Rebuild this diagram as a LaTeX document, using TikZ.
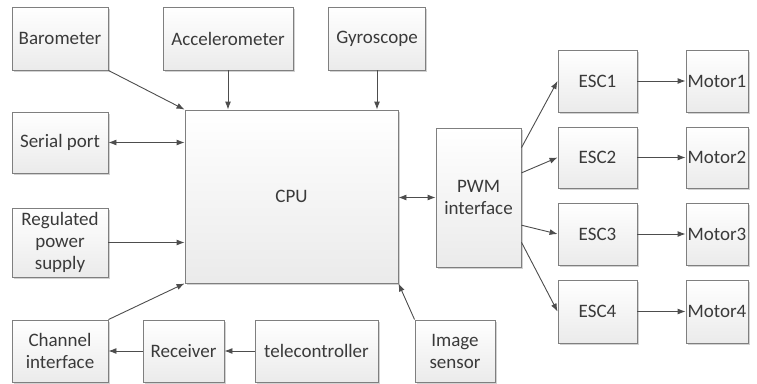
\documentclass[tikz,border=0pt]{standalone}
\usepackage{fontspec}
\setmainfont{Carlito}
\usetikzlibrary{arrows.meta,shadows,calc}
\definecolor{boxline}{HTML}{7F7F7F}
\definecolor{arrline}{HTML}{4D4D4D}
\definecolor{txt}{HTML}{3A3A3A}
\tikzset{
  blk/.style={draw=boxline, line width=0.9pt, top color=white, bottom color=black!8,
    drop shadow={shadow xshift=1.5pt, shadow yshift=-1.5pt, fill=black!35, opacity=0.5},
    inner sep=0pt, align=center, text=txt,
    font=\fontsize{19}{22}\selectfont},
  conn/.style={draw=arrline, line width=0.9pt, -{Latex[length=8pt,width=6pt]}},
  bconn/.style={draw=arrline, line width=0.9pt, {Latex[length=8pt,width=6pt]}-{Latex[length=8pt,width=6pt]}}
}
\begin{document}
\begin{tikzpicture}[x=1pt,y=-1pt]
\useasboundingbox (0,0) rectangle (757,383);
\node[blk, minimum width=96pt, minimum height=63pt] (baro) at (60,38.5) {Barometer};
\node[blk, minimum width=130pt, minimum height=63pt] (acc) at (228,38.5) {Accelerometer};
\node[blk, minimum width=97pt, minimum height=63pt] (gyro) at (377,38.5) {Gyroscope};
\node[blk, minimum width=96pt, minimum height=61pt] (serial) at (60,142.5) {Serial port};
\node[blk, minimum width=96pt, minimum height=69pt] (power) at (60,242.5) {Regulated\\power\\supply};
\node[blk, minimum width=96pt, minimum height=62pt] (chan) at (60,351) {Channel\\interface};
\node[blk, minimum width=81pt, minimum height=62pt] (recv) at (183.5,351) {Receiver};
\node[blk, minimum width=123pt, minimum height=62pt] (tele) at (316.5,351) {telecontroller};
\node[blk, minimum width=80pt, minimum height=62pt] (img) at (455,351) {Image\\sensor};
\node[blk, minimum width=213pt, minimum height=173pt] (cpu) at (291.5,196.5) {CPU};
\node[blk, minimum width=85pt, minimum height=139pt] (pwm) at (478.5,197.5) {PWM\\interface};
\node[blk, minimum width=79pt, minimum height=62pt] (esc1) at (597.5,81) {ESC1};
\node[blk, minimum width=79pt, minimum height=61pt] (esc2) at (597.5,157.5) {ESC2};
\node[blk, minimum width=79pt, minimum height=62pt] (esc3) at (597.5,234) {ESC3};
\node[blk, minimum width=79pt, minimum height=63pt] (esc4) at (597.5,311.5) {ESC4};
\node[blk, minimum width=62pt, minimum height=62pt] (m1) at (717,81) {Motor1};
\node[blk, minimum width=62pt, minimum height=61pt] (m2) at (717,157.5) {Motor2};
\node[blk, minimum width=62pt, minimum height=62pt] (m3) at (717,234) {Motor3};
\node[blk, minimum width=62pt, minimum height=63pt] (m4) at (717,311.5) {Motor4};

\draw[conn] (baro.south east) -- (cpu.north west);
\draw[conn] (acc.south) -- (acc.south |- cpu.north);
\draw[conn] (gyro.south) -- (gyro.south |- cpu.north);
\draw[bconn] (serial.east) -- (serial.east -| cpu.west);
\draw[conn] (power.east) -- (power.east -| cpu.west);
\draw[conn] (chan.north east) -- (cpu.south west);
\draw[conn] (tele.west) -- (recv.east);
\draw[conn] (recv.west) -- (chan.east);
\draw[conn] (img.north west) -- (cpu.south east);
\draw[bconn] (cpu.east |- pwm.west) -- (pwm.west);
\draw[conn] ($(pwm.north east)!0.144!(pwm.south east)$) -- (esc1.west);
\draw[conn] ($(pwm.north east)!0.324!(pwm.south east)$) -- (esc2.west);
\draw[conn] ($(pwm.north east)!0.698!(pwm.south east)$) -- (esc3.west);
\draw[conn] ($(pwm.north east)!0.82!(pwm.south east)$) -- (esc4.west);
\draw[conn] (esc1.east) -- (m1.west);
\draw[conn] (esc2.east) -- (m2.west);
\draw[conn] (esc3.east) -- (m3.west);
\draw[conn] (esc4.east) -- (m4.west);
\end{tikzpicture}
\end{document}
